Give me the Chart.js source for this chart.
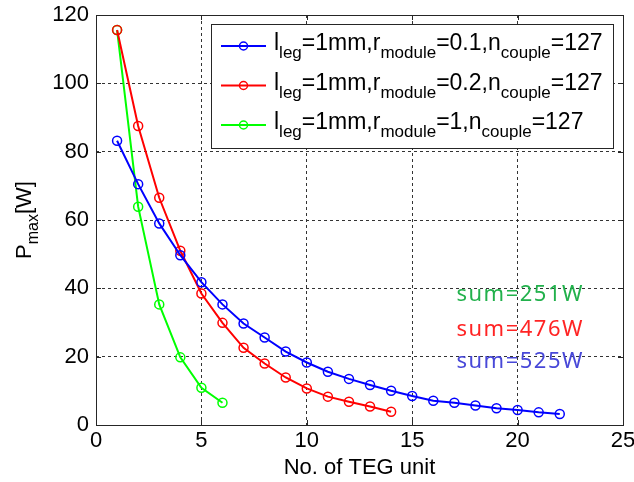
<!DOCTYPE html>
<html>
<head>
<meta charset="utf-8">
<script src="https://cdn.jsdelivr.net/npm/chart.js@4"></script>
<style>
  html, body { margin: 0; padding: 0; background: #ffffff; }
  #wrap { width: 634px; height: 482px; }
</style>
</head>
<body>
<div id="wrap"><canvas id="chart" width="634" height="482"></canvas></div>
<script>
// Number of TEG units in each configuration
const unitsA = [1, 2, 3, 4, 5, 6, 7, 8, 9, 10, 11, 12, 13, 14, 15, 16, 17, 18, 19, 20, 21, 22];
const unitsB = [1, 2, 3, 4, 5, 6, 7, 8, 9, 10, 11, 12, 13, 14];
const unitsC = [1, 2, 3, 4, 5, 6];

// Maximum power per configuration [W]
const powerA = [83.2, 70.5, 59.0, 49.7, 41.8, 35.3, 29.7, 25.6, 21.5, 18.3, 15.6, 13.5, 11.7, 10.0, 8.5, 7.1, 6.5, 5.7, 4.9, 4.4, 3.7, 3.2];
const powerB = [115.6, 87.5, 66.5, 51.0, 38.5, 29.9, 22.6, 18.0, 13.9, 10.7, 8.3, 6.8, 5.4, 3.9];
const powerC = [115.6, 63.9, 35.3, 19.8, 10.9, 6.5];

// Legend texts (plain and subscript runs)
const legendA = [['l', 0], ['leg', 1], ['=1mm,r', 0], ['module', 1], ['=0.1,n', 0], ['couple', 1], ['=127', 0]];
const legendB = [['l', 0], ['leg', 1], ['=1mm,r', 0], ['module', 1], ['=0.2,n', 0], ['couple', 1], ['=127', 0]];
const legendC = [['l', 0], ['leg', 1], ['=1mm,r', 0], ['module', 1], ['=1,n', 0], ['couple', 1], ['=127', 0]];

// Totals written inside the plot
const sumTexts = ['sum=251W', 'sum=476W', 'sum=525W'];
const sumColors = ['#22b14c', '#ff2424', '#4848d8'];
const sumAnchorX = 17.1;               // data x of the text left edge
const sumAnchorY = [38.0, 27.8, 18.4]; // data y of each text's middle

// Axis ticks
const xTicks = [0, 5, 10, 15, 20, 25];
const yTicks = [0, 20, 40, 60, 80, 100, 120];
const xTitle = 'No. of TEG unit';
const yTitle = [['P', 0], ['max', 1], ['[W]', 0]];

const FONT = '"Liberation Sans", Arial, sans-serif';
const MAIN_PX = 22;
const SUB_PX = 16;
const LEG_MAIN_PX = 23;
const LEG_SUB_PX = 17;

function pairs(xs, ys) { return xs.map((x, i) => ({ x: x, y: ys[i] })); }

function richWidth(ctx, parts, mainPx, subPx) {
  let w = 0;
  for (const [t, sub] of parts) {
    ctx.font = (sub ? subPx : mainPx) + 'px ' + FONT;
    w += ctx.measureText(t).width;
  }
  return w;
}

function drawRich(ctx, parts, x, y, mainPx, subPx, subDrop) {
  ctx.textAlign = 'left';
  ctx.textBaseline = 'alphabetic';
  let cx = x;
  for (const [t, sub] of parts) {
    ctx.font = (sub ? subPx : mainPx) + 'px ' + FONT;
    ctx.fillText(t, cx, y + (sub ? subDrop : 0));
    cx += ctx.measureText(t).width;
  }
  return cx;
}

const series = [
  { label: 'l_leg=1mm,r_module=0.1,n_couple=127', color: '#0000ff', data: pairs(unitsA, powerA), legend: legendA },
  { label: 'l_leg=1mm,r_module=0.2,n_couple=127', color: '#ff0000', data: pairs(unitsB, powerB), legend: legendB },
  { label: 'l_leg=1mm,r_module=1,n_couple=127',   color: '#00ff00', data: pairs(unitsC, powerC), legend: legendC }
];

// Frame, inward ticks, axis titles, text notes and the legend box
const decorations = {
  id: 'decorations',
  beforeDatasetsDraw(chart) {
    const ctx = chart.ctx;
    const xs = chart.scales.x, ys = chart.scales.y;
    ctx.save();
    ctx.font = '22px "Noto Sans", sans-serif';
    ctx.letterSpacing = '1.5px';
    ctx.textAlign = 'left';
    ctx.textBaseline = 'middle';
    sumTexts.forEach((t, i) => {
      ctx.fillStyle = sumColors[i];
      ctx.fillText(t, xs.getPixelForValue(sumAnchorX), ys.getPixelForValue(sumAnchorY[i]));
    });
    ctx.restore();
  },
  afterDatasetsDraw(chart) {
    const ctx = chart.ctx;
    const a = chart.chartArea;
    const xs = chart.scales.x, ys = chart.scales.y;
    ctx.save();

    // axes box
    ctx.strokeStyle = '#262626';
    ctx.lineWidth = 1;
    ctx.setLineDash([]);
    ctx.strokeRect(Math.round(a.left) + 0.5, Math.round(a.top) + 0.5,
                   Math.round(a.right - a.left), Math.round(a.bottom - a.top));

    // inward tick marks on all four sides
    const tl = 5;
    ctx.beginPath();
    xTicks.forEach(v => {
      const px = Math.round(xs.getPixelForValue(v)) + 0.5;
      ctx.moveTo(px, a.bottom); ctx.lineTo(px, a.bottom - tl);
      ctx.moveTo(px, a.top); ctx.lineTo(px, a.top + tl);
    });
    yTicks.forEach(v => {
      const py = Math.round(ys.getPixelForValue(v)) + 0.5;
      ctx.moveTo(a.left, py); ctx.lineTo(a.left + tl, py);
      ctx.moveTo(a.right, py); ctx.lineTo(a.right - tl, py);
    });
    ctx.stroke();

    // axis titles
    ctx.fillStyle = '#000000';
    ctx.font = MAIN_PX + 'px ' + FONT;
    ctx.textAlign = 'center';
    ctx.textBaseline = 'alphabetic';
    ctx.fillText(xTitle, (a.left + a.right) / 2, a.bottom + 49);

    const yw = richWidth(ctx, yTitle, MAIN_PX, SUB_PX);
    ctx.translate(31, (a.top + a.bottom) / 2);
    ctx.rotate(-Math.PI / 2);
    drawRich(ctx, yTitle, -yw / 2, 0, MAIN_PX, SUB_PX, 7);
    ctx.setTransform(1, 0, 0, 1, 0, 0);

    // legend box
    let textW = 0;
    series.forEach(s => { textW = Math.max(textW, richWidth(ctx, s.legend, LEG_MAIN_PX, LEG_SUB_PX)); });
    const padL = 10, lineLen = 45, gap = 8, padR = 10;
    const boxW = Math.round(padL + lineLen + gap + textW + padR);
    const boxH = 124;
    const bx = Math.round(a.right - 10 - boxW);
    const by = Math.round(a.top + 9);
    ctx.fillStyle = '#ffffff';
    ctx.fillRect(bx, by, boxW, boxH);
    ctx.strokeStyle = '#262626';
    ctx.lineWidth = 1;
    ctx.strokeRect(bx + 0.5, by + 0.5, boxW, boxH);

    series.forEach((s, i) => {
      const rowY = by + 22 + i * 39.5;
      ctx.strokeStyle = s.color;
      ctx.lineWidth = 2;
      ctx.beginPath();
      ctx.moveTo(bx + padL, rowY);
      ctx.lineTo(bx + padL + lineLen, rowY);
      ctx.stroke();
      ctx.lineWidth = 1.5;
      ctx.beginPath();
      ctx.arc(bx + padL + lineLen / 2, rowY, 4, 0, Math.PI * 2);
      ctx.stroke();
      ctx.fillStyle = '#000000';
      drawRich(ctx, s.legend, bx + padL + lineLen + gap, rowY + 4, LEG_MAIN_PX, LEG_SUB_PX, 8);
    });

    ctx.restore();
  }
};

new Chart(document.getElementById('chart'), {
  type: 'line',
  data: {
    datasets: series.map(s => ({
      label: s.label,
      data: s.data,
      borderColor: s.color,
      backgroundColor: 'rgba(0,0,0,0)',
      borderWidth: 2,
      pointRadius: 4.5,
      pointBorderWidth: 1.5,
      pointBorderColor: s.color,
      pointBackgroundColor: 'rgba(0,0,0,0)',
      tension: 0,
      fill: false
    }))
  },
  options: {
    responsive: false,
    devicePixelRatio: 1,
    animation: false,
    layout: { padding: { top: 15, right: 11, left: 0, bottom: 0 } },
    plugins: { legend: { display: false }, tooltip: { enabled: false } },
    scales: {
      x: {
        type: 'linear',
        min: 0, max: 25,
        afterBuildTicks(scale) { scale.ticks = xTicks.map(v => ({ value: v })); },
        afterFit(scale) { scale.height = 57; scale.paddingLeft = 0; scale.paddingRight = 0; },
        grid: { color: '#333333', lineWidth: 1, drawTicks: false },
        border: { display: false, dash: [3, 3] },
        ticks: { color: '#000000', padding: 3, maxRotation: 0, font: { family: FONT, size: MAIN_PX } }
      },
      y: {
        type: 'linear',
        min: 0, max: 120,
        afterBuildTicks(scale) { scale.ticks = yTicks.map(v => ({ value: v })); },
        afterFit(scale) { scale.width = 96; scale.paddingTop = 0; scale.paddingBottom = 0; },
        grid: { color: '#333333', lineWidth: 1, drawTicks: false },
        border: { display: false, dash: [3, 3] },
        ticks: { color: '#000000', padding: 7, font: { family: FONT, size: MAIN_PX } }
      }
    }
  },
  plugins: [decorations]
});
</script>
</body>
</html>
